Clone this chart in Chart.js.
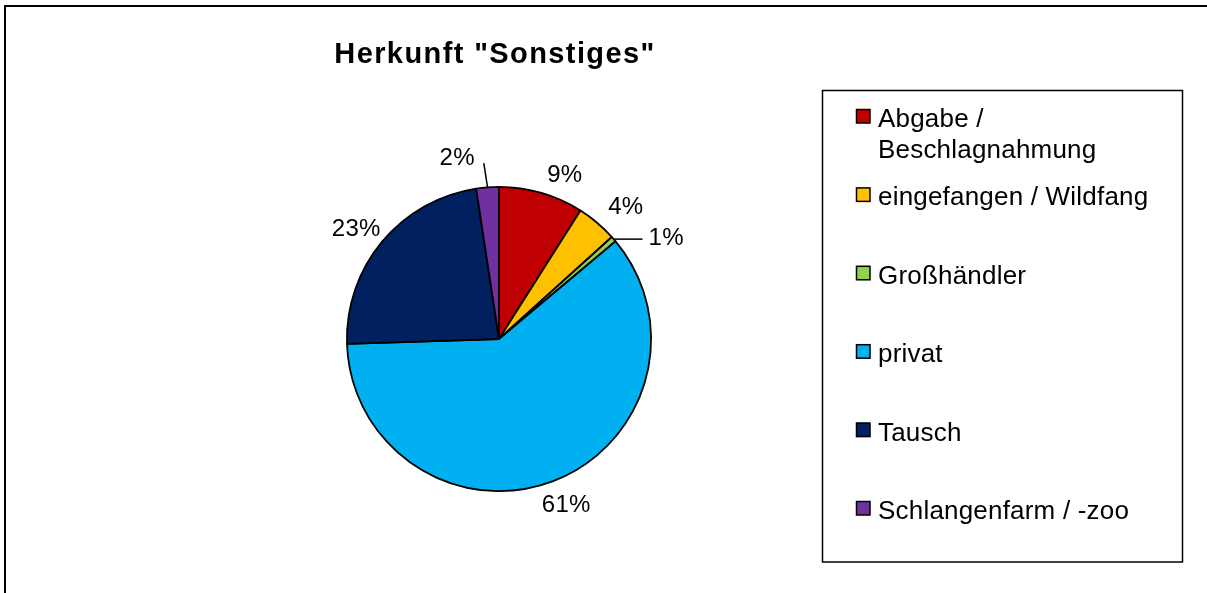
<!DOCTYPE html>
<html>
<head>
<meta charset="utf-8">
<script src="https://cdn.jsdelivr.net/npm/chart.js@4/dist/chart.umd.min.js"></script>
<style>
    html, body { margin: 0; padding: 0; background: #fff; }
    #wrap { width: 1207px; height: 593px; position: relative; }
</style>
</head>
<body>
<div id="wrap"><canvas id="chart" width="1207" height="593"></canvas></div>
<script>
// --- DATA ---
const chartTitle = 'Herkunft "Sonstiges"';
const categories = ['Abgabe / Beschlagnahmung', 'eingefangen / Wildfang', 'Großhändler', 'privat', 'Tausch', 'Schlangenfarm / -zoo'];
const shares = [9.0, 4.3, 0.6, 60.6, 23.1, 2.4];
const colors = ['#C00000', '#FFC000', '#92D050', '#00B0F0', '#002060', '#7030A0'];

// --- LABEL LAYOUT (excel "best fit" nudges: degrees, px beyond the rim) ---
const labelAngleNudge = [5.5, 3.4, 9.5, -1.3, -1.8, -8.6];
const labelRimGap = [26, 32, 44, 26, 29, 35];

const FONT = '"Liberation Sans", Arial, sans-serif';

function wrapText(ctx, text, maxWidth) {
    const words = text.split(' ');
    const lines = [];
    let line = '';
    words.forEach(w => {
        const test = line ? line + ' ' + w : w;
        if (line && ctx.measureText(test).width > maxWidth) {
            lines.push(line);
            line = w;
        } else {
            line = test;
        }
    });
    if (line) lines.push(line);
    return lines;
}

const decorPlugin = {
    id: 'decor',
    afterDraw(chart) {
        const ctx = chart.ctx;
        ctx.save();

        // outer frame (only left + top visible in crop)
        ctx.strokeStyle = '#000';
        ctx.lineWidth = 2;
        ctx.beginPath();
        ctx.moveTo(5, 593);
        ctx.lineTo(5, 6);
        ctx.lineTo(1207, 6);
        ctx.stroke();

        // title
        ctx.fillStyle = '#000';
        ctx.font = 'bold 29px ' + FONT;
        ctx.letterSpacing = '1.4px';
        ctx.textAlign = 'center';
        ctx.textBaseline = 'alphabetic';
        ctx.fillText(chartTitle, 495, 63);

        // data labels
        const meta = chart.getDatasetMeta(0);
        const total = shares.reduce((a, b) => a + b, 0);
        ctx.font = '24px ' + FONT;
        ctx.letterSpacing = '0.3px';
        meta.data.forEach((arc, i) => {
            const mid = (arc.startAngle + arc.endAngle) / 2 + labelAngleNudge[i] * Math.PI / 180;
            const r = arc.outerRadius + labelRimGap[i];
            const cx = arc.x + r * Math.cos(mid);
            const cy = arc.y + r * Math.sin(mid);
            const txt = Math.round(shares[i] / total * 100) + '%';
            const w = ctx.measureText(txt).width;
            ctx.fillStyle = '#000';
            ctx.textAlign = 'center';
            ctx.fillText(txt, cx, cy + 8.5);

            if (shares[i] / total < 0.03) {
                const m0 = (arc.startAngle + arc.endAngle) / 2;
                const ex = arc.x + arc.outerRadius * Math.cos(m0);
                const ey = arc.y + arc.outerRadius * Math.sin(m0);
                const bx0 = cx - w / 2 - 6, bx1 = cx + w / 2 + 9;
                const by0 = cy - 8.5 - 2, by1 = cy + 8.5 - 2;
                const lx = Math.min(Math.max(ex, bx0), bx1);
                const ly = Math.min(Math.max(ey, by0), by1);
                ctx.strokeStyle = '#000';
                ctx.lineWidth = 1.5;
                ctx.beginPath();
                ctx.moveTo(ex, ey);
                ctx.lineTo(lx, ly);
                ctx.stroke();
            }
        });

        // legend box
        ctx.strokeStyle = '#000';
        ctx.lineWidth = 1.5;
        ctx.strokeRect(822.5, 90.5, 360, 471.5);

        ctx.font = '26px ' + FONT;
        ctx.letterSpacing = '0.2px';
        ctx.textAlign = 'left';
        categories.forEach((name, i) => {
            const base = 127 + i * 78.4;
            ctx.fillStyle = colors[i];
            ctx.fillRect(856, base - 18, 14, 14);
            ctx.strokeStyle = '#000';
            ctx.lineWidth = 1.5;
            ctx.strokeRect(856.5, base - 17.5, 13.5, 13.5);
            ctx.fillStyle = '#000';
            wrapText(ctx, name, 290).forEach((ln, k) => ctx.fillText(ln, 878, base + k * 31));
        });

        ctx.restore();
    }
};

new Chart(document.getElementById('chart'), {
    type: 'pie',
    data: {
        labels: categories,
        datasets: [{
            data: shares,
            backgroundColor: colors,
            borderColor: '#000',
            borderWidth: 1.8
        }]
    },
    options: {
        responsive: false,
        animation: false,
        devicePixelRatio: 1,
        layout: { padding: { left: 346, right: 555, top: 186, bottom: 101 } },
        plugins: {
            legend: { display: false },
            title: { display: false },
            tooltip: { enabled: false }
        }
    },
    plugins: [decorPlugin]
});
</script>
</body>
</html>
